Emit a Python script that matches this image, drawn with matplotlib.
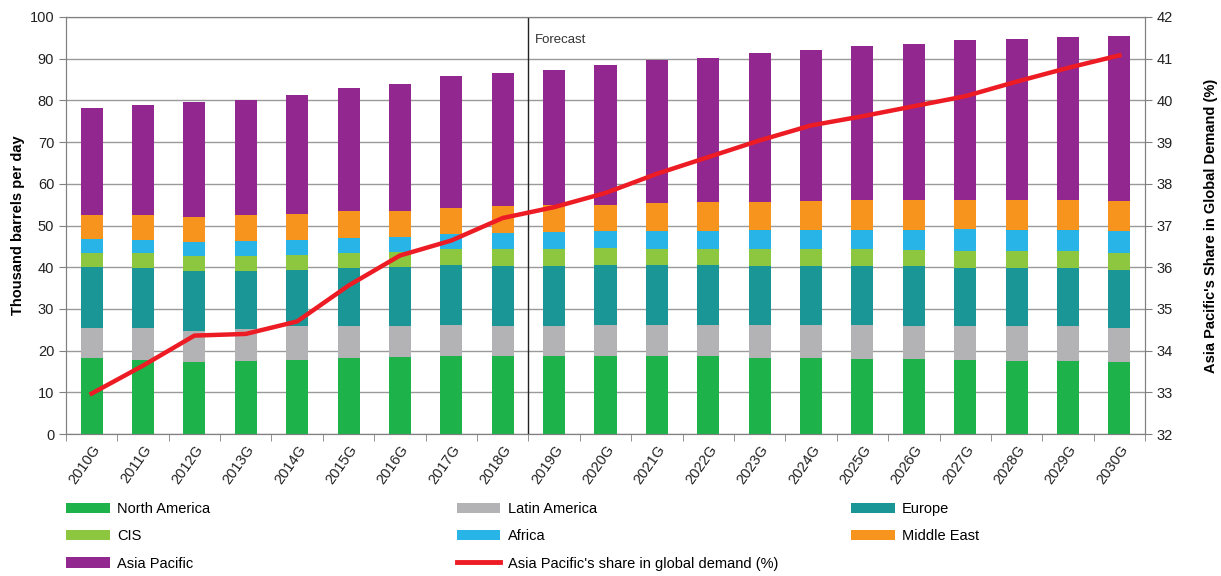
import matplotlib
matplotlib.use("Agg")
import matplotlib.pyplot as plt
import numpy as np
from matplotlib.patches import Patch
from matplotlib.lines import Line2D

plt.rcParams['font.family'] = ['Liberation Sans', 'DejaVu Sans']

years = ["2010G", "2011G", "2012G", "2013G", "2014G", "2015G", "2016G", "2017G", "2018G",
         "2019G", "2020G", "2021G", "2022G", "2023G", "2024G", "2025G", "2026G", "2027G",
         "2028G", "2029G", "2030G"]

north_america = [18.2, 17.8, 17.2, 17.6, 17.8, 18.2, 18.4, 18.6, 18.6, 18.6, 18.6, 18.6, 18.6,
                 18.2, 18.2, 18.0, 18.0, 17.8, 17.6, 17.6, 17.2]
latin_america = [7.2, 7.6, 7.6, 7.6, 8.0, 7.8, 7.6, 7.6, 7.2, 7.2, 7.6, 7.6, 7.6,
                 8.0, 8.0, 8.2, 8.0, 8.0, 8.4, 8.2, 8.2]
europe = [14.6, 14.4, 14.2, 13.8, 13.6, 13.8, 14.0, 14.4, 14.6, 14.6, 14.4, 14.4, 14.4,
          14.2, 14.0, 14.0, 14.2, 14.0, 13.8, 13.9, 13.9]
cis = [3.4, 3.6, 3.6, 3.8, 3.6, 3.6, 3.6, 3.8, 4.0, 4.0, 4.0, 3.8, 3.8,
       4.0, 4.2, 4.2, 4.0, 4.2, 4.2, 4.1, 4.0]
africa = [3.4, 3.2, 3.4, 3.4, 3.6, 3.6, 3.6, 3.6, 3.8, 4.0, 4.0, 4.2, 4.4,
          4.6, 4.6, 4.6, 4.8, 5.2, 5.0, 5.1, 5.4]
middle_east = [5.6, 5.8, 6.0, 6.4, 6.2, 6.4, 6.2, 6.2, 6.4, 6.6, 6.4, 6.8, 6.8,
               6.6, 6.8, 7.0, 7.2, 7.0, 7.2, 7.2, 7.2]
asia_pacific = [25.8, 26.6, 27.6, 27.6, 28.4, 29.6, 30.6, 31.6, 32.0, 32.4, 33.6, 34.2, 34.6,
                35.8, 36.4, 37.0, 37.4, 38.2, 38.6, 39.1, 39.5]
ap_share = [32.97, 33.64, 34.36, 34.40, 34.70, 35.56, 36.28, 36.64, 37.18, 37.44, 37.78, 38.24,
            38.64, 39.04, 39.40, 39.62, 39.86, 40.10, 40.45, 40.78, 41.08]

series_names = ["North America", "Latin America", "Europe", "CIS", "Africa", "Middle East", "Asia Pacific"]
series_vals = [north_america, latin_america, europe, cis, africa, middle_east, asia_pacific]
colors = ["#1db34a", "#b3b3b5", "#1b9696", "#8dc63f", "#29b4e8", "#f7941d", "#92278f"]
line_label = "Asia Pacific's share in global demand (%)"
red = "#ed1c24"

fig = plt.figure(figsize=(12.21, 5.76), dpi=100)
ax = fig.add_axes([0.054, 0.2465, 0.8838, 0.724])
x = np.arange(len(years))

bottom = np.zeros(len(years))
for name, vals, c in zip(series_names, series_vals, colors):
    v = np.array(vals)
    ax.bar(x, v, 0.43, bottom=bottom, color=c, label=name, zorder=3)
    bottom += v

ax.set_xlim(-0.5, len(years) - 0.5)
ax.set_ylim(0, 100)
ax.set_yticks(np.arange(0, 101, 10))
ax.grid(axis='y', color='#9a9a9a', lw=1.0, zorder=0)
ax.set_axisbelow(True)
ax.set_xticks(x)
ax.set_xticklabels(years, rotation=55, ha='right', rotation_mode='anchor', fontsize=10.5, color='#222222')
ax.tick_params(axis='x', length=0, pad=6)
ax.set_xticks(np.arange(-0.5, len(years)), minor=True)
ax.tick_params(axis='x', which='minor', length=5, color='#808080', direction='out')
ax.tick_params(axis='y', length=5, color='#808080', labelsize=10.5, labelcolor='#222222')
for s in ax.spines.values():
    s.set_color('#808080')
ax.set_ylabel("Thousand barrels per day", fontsize=10.5, fontweight='bold', labelpad=3)

ax.axvline(8.5, color='#222222', lw=1.0, zorder=4)
ax.text(8.62, 94.5, "Forecast", fontsize=9.5, color='#333333', va='center', ha='left')

ax2 = ax.twinx()
ax2.plot(x, ap_share, color=red, lw=3.2, zorder=5, solid_joinstyle='round')
ax2.set_ylim(32, 42)
ax2.set_yticks(np.arange(32, 43, 1))
ax2.tick_params(axis='y', length=5, color='#808080', labelsize=10.5, labelcolor='#222222')
for s in ax2.spines.values():
    s.set_color('#808080')
ax2.set_ylabel("Asia Pacific's Share in Global Demand (%)", fontsize=10.5, fontweight='bold', labelpad=22)

# legends: three columns
h = [Patch(facecolor=c, edgecolor='none') for c in colors]
lh = Line2D([], [], color=red, lw=3.5)
cols = [
    ([h[0], h[3], h[6]], [series_names[0], series_names[3], series_names[6]], 0.054),
    ([h[1], h[4], lh], [series_names[1], series_names[4], line_label], 0.374),
    ([h[2], h[5]], [series_names[2], series_names[5]], 0.697),
]
for hs, ls, xpos in cols:
    fig.legend(hs, ls, loc='upper left', bbox_to_anchor=(xpos, 0.128), frameon=False,
               fontsize=10.5, handlelength=3.0, handleheight=0.7, handletextpad=0.5,
               labelspacing=0.9, borderaxespad=0, borderpad=0)

fig.savefig("out.png", dpi=100)
